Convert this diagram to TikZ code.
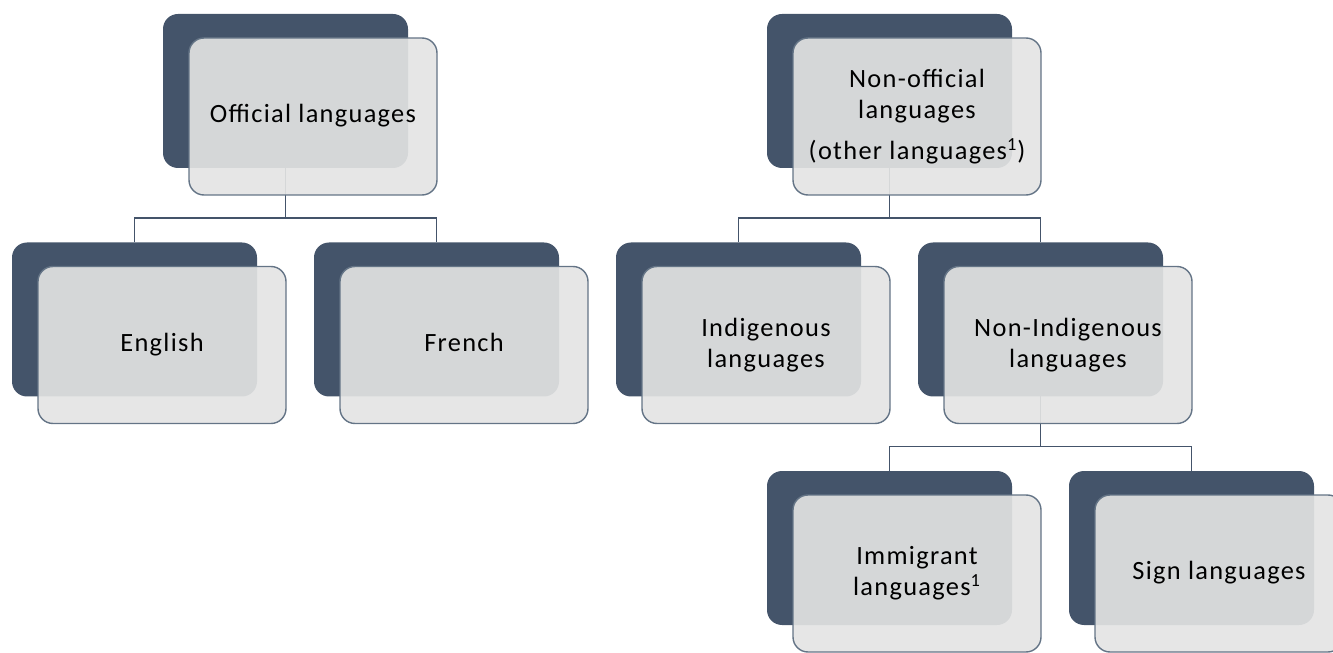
\documentclass[tikz,border=0pt]{standalone}
\usepackage{fontspec}
\setmainfont[LetterSpace=5]{Carlito}
\usepackage{tikz}
\usetikzlibrary{positioning}
\definecolor{slateblue}{RGB}{68,84,106}
\definecolor{cardgray}{RGB}{228,228,228}
\definecolor{edgegray}{RGB}{100,116,134}

\begin{document}
\begin{tikzpicture}[
    back/.style={fill=slateblue, rounded corners=0.3cm, minimum width=4.9cm, minimum height=3.08cm, outer sep=0pt, inner sep=0pt},
    card/.style={draw=edgegray, line width=0.8pt, fill=cardgray, fill opacity=0.91, text opacity=1, rounded corners=0.3cm, minimum width=4.96cm, minimum height=3.14cm, align=center, font=\fontsize{15}{17.5}\selectfont},
    link/.style={draw=slateblue, line width=0.8pt}
]
\useasboundingbox (0,0) rectangle (26.66,13.04);
\clip (0,0) rectangle (26.66,13.04);

% back plates
\node[back] (off) at (5.71,11.22) {};
\node[back, below=1.49cm of off, xshift=-3.02cm] (eng) {};
\node[back, right=1.14cm of eng] (fre) {};
\node[back, right=1.14cm of fre] (ind) {};
\node[back, right=1.14cm of ind] (nind) {};
\node[back, above=1.49cm of ind, xshift=3.02cm] (noff) {};
\node[back, below=1.49cm of nind, xshift=-3.02cm] (imm) {};
\node[back, right=1.14cm of imm] (sgn) {};

% tree lines
\draw[link] (off.south) -- ++(0,-1) -| (eng.north);
\draw[link] (off.south) -- ++(0,-1) -| (fre.north);
\draw[link] (noff.south) -- ++(0,-1) -| (ind.north);
\draw[link] (noff.south) -- ++(0,-1) -| (nind.north);
\draw[link] (nind.south) -- ++(0,-1) -| (imm.north);
\draw[link] (nind.south) -- ++(0,-1) -| (sgn.north);

% front cards
\node[card] (offc) at ([shift={(0.55,-0.51)}]off.center) {\strut Official languages};
\node[card] (noffc) at ([shift={(0.55,-0.51)}]noff.center) {Non-official\\languages\\[6pt](other languages\textsuperscript{1})};
\node[card] (engc) at ([shift={(0.55,-0.51)}]eng.center) {\strut English};
\node[card] (frec) at ([shift={(0.55,-0.51)}]fre.center) {\strut French};
\node[card] (indc) at ([shift={(0.55,-0.51)}]ind.center) {Indigenous\\languages};
\node[card] (nindc) at ([shift={(0.55,-0.51)}]nind.center) {Non-Indigenous\\languages};
\node[card] (immc) at ([shift={(0.55,-0.51)}]imm.center) {Immigrant\\languages\textsuperscript{1}};
\node[card] (sgnc) at ([shift={(0.55,-0.51)}]sgn.center) {\strut Sign languages};
\end{tikzpicture}
\end{document}
